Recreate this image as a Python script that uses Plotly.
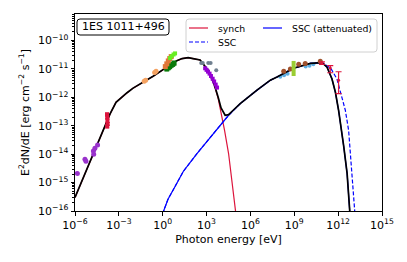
import plotly.graph_objects as go

# ---------------- model curves ----------------
total_E = [1e-6, 1.07e-5, 1.13e-4, 2.5e-4, 6.4e-4, 1.42e-3, 3.65e-3, 9.4e-3, 2.83e-2, 0.22, 1.91, 9.2,
           21, 55, 120, 360, 1190, 3300, 6200, 9800, 1.86e4, 3.2e4, 6.6e4, 2.0e5, 2.8e6, 2.3e7,
           6.6e7, 8.9e8, 1.26e10, 8e10, 1.74e11, 3.8e11, 6.5e11, 1.07e12, 2.4e12, 4.1e12, 6.3e12]
total_F = [3.0e-16, 5.6e-15, 1.0e-13, 2.6e-13, 6.7e-13, 9.7e-13, 1.45e-12, 2.1e-12, 2.9e-12, 5.5e-12, 1.15e-11, 1.92e-11,
           2.3e-11, 2.5e-11, 2.3e-11, 2.05e-11, 9.3e-12, 2.9e-12, 1.0e-12, 4.2e-13, 2.34e-13, 2.45e-13, 3.5e-13, 6.0e-13, 1.78e-12, 4.0e-12,
           5.2e-12, 1.05e-11, 1.55e-11, 1.66e-11, 1.15e-11, 4.4e-12, 1.5e-12, 3.5e-13, 1.9e-14, 2.1e-15, 9e-17]

synch_E = [1e-6, 1.07e-5, 1.13e-4, 2.5e-4, 6.4e-4, 1.42e-3, 3.65e-3, 9.4e-3, 2.83e-2, 0.22, 1.91, 9.2,
           21, 55, 120, 360, 1190, 3300, 6200, 9800, 1.3e4, 1.7e4, 3.2e4, 6.3e4, 9.8e4]
synch_F = [3.0e-16, 5.6e-15, 1.0e-13, 2.6e-13, 6.7e-13, 9.7e-13, 1.45e-12, 2.1e-12, 2.9e-12, 5.5e-12, 1.15e-11, 1.92e-11,
           2.3e-11, 2.5e-11, 2.3e-11, 2.05e-11, 9.3e-12, 2.85e-12, 9.1e-13, 2.9e-13, 1.55e-13, 6.9e-14, 1.05e-14, 6.9e-16, 9e-17]

ssc_att_E = [0.98, 2.3, 5.4, 26, 220, 1800, 1.3e4, 3.0e4, 6.6e4, 2.0e5, 2.8e6, 2.3e7, 6.6e7, 8.9e8,
             1.26e10, 8e10, 1.74e11, 3.8e11, 6.5e11, 1.07e12, 2.4e12, 4.1e12, 6.3e12]
ssc_att_F = [8e-17, 2.6e-16, 5.7e-16, 2.5e-15, 1.05e-14, 3.9e-14, 1.45e-13, 2.24e-13, 3.4e-13, 6.0e-13, 1.78e-12, 4.0e-12, 5.2e-12, 1.05e-11,
             1.55e-11, 1.66e-11, 1.15e-11, 4.4e-12, 1.5e-12, 3.5e-13, 1.9e-14, 2.1e-15, 9e-17]

ssc_E = [0.98, 2.3, 5.4, 26, 220, 1800, 1.3e4, 3.0e4, 6.6e4, 2.0e5, 2.8e6, 2.3e7, 6.6e7, 8.9e8,
         1.26e10, 8e10, 1.74e11, 3.4e11, 8.3e11, 1.62e12, 3.1e12, 5.2e12, 8.9e12, 1.38e13]
ssc_F = [8e-17, 2.6e-16, 5.7e-16, 2.5e-15, 1.05e-14, 3.9e-14, 1.45e-13, 2.24e-13, 3.4e-13, 6.0e-13, 1.78e-12, 4.0e-12, 5.2e-12, 1.05e-11,
         1.55e-11, 1.66e-11, 1.3e-11, 9.8e-12, 4.4e-12, 1.3e-12, 3.5e-13, 6.9e-14, 2.7e-15, 9e-17]

radio_E = [1.45e-6, 4.8e-6, 5.6e-6, 1.8e-5, 2.3e-5, 1.9e-5, 3.5e-5]
radio_F = [2.1e-15, 6.6e-15, 5.6e-15, 1.3e-14, 1.6e-14, 1.0e-14, 2.1e-14]

optR_E = [1.55e-4, 1.6e-4, 1.65e-4, 1.7e-4, 1.6e-4]
optR_F = [2.5e-13, 2.0e-13, 1.5e-13, 1.15e-13, 9.5e-14]

orange_E = [0.054, 0.068, 0.28, 0.35]
orange_F = [3.7e-12, 4.0e-12, 7.4e-12, 8.3e-12]

dgreen_E = [1.9, 2.4, 3.0, 3.8, 4.8, 6.0]
dgreen_F = [1.0e-11, 1.1e-11, 1.2e-11, 1.35e-11, 1.45e-11, 1.6e-11]

brownUV_E = [1.5, 1.9, 2.4, 3.0, 3.8]
brownUV_F = [1.2e-11, 1.5e-11, 1.9e-11, 2.3e-11, 2.7e-11]

lime_E = [3.2, 4.2, 5.5, 7.0]
lime_F = [2.4e-11, 2.8e-11, 3.2e-11, 3.5e-11]

gray_E = [430, 550, 1300, 1900, 4600]
gray_F = [1.6e-11, 1.6e-11, 1.6e-11, 1.6e-11, 9.0e-12]

xray_E = [800, 1000, 1250, 1600, 2000, 2600, 3300, 4200, 5200]
xray_F = [1.05e-11, 9.2e-12, 8.0e-12, 6.8e-12, 5.6e-12, 4.5e-12, 3.6e-12, 2.8e-12, 2.2e-12]

lblue_E = [1.1e8, 2.0e8, 3.5e8, 6.0e9, 1.1e10, 2.0e10]
lblue_F = [5.3e-12, 6.0e-12, 6.8e-12, 1.2e-11, 1.3e-11, 1.45e-11]

fermi_E = [1.9e8, 5.4e8, 2.0e9, 5.6e9, 6.0e10]
fermi_F = [8.3e-12, 9.8e-12, 1.45e-11, 1.55e-11, 1.85e-11]

bow_E = [9e8]
bow_F = [1.05e-11]
bow_up = [0.85e-11]
bow_dn = [0.49e-11]

tev_E = [7.8e10, 2.9e11, 1.07e12]
tev_F = [1.6e-11, 1.07e-11, 4.0e-12]
tev_up = [1.5e-12, 2.3e-12, 3.9e-12]
tev_dn = [1.5e-12, 3.4e-12, 2.65e-12]

xtick_exp = [-6, -3, 0, 3, 6, 9, 12, 15]
ytick_exp = [-16, -15, -14, -13, -12, -11, -10]

FONT = "DejaVu Sans"

fig = go.Figure()

# model curves
fig.add_trace(go.Scatter(x=synch_E, y=synch_F, mode="lines", name="synch",
                         line=dict(color="crimson", width=1.2), showlegend=False))
fig.add_trace(go.Scatter(x=ssc_E, y=ssc_F, mode="lines", name="SSC",
                         line=dict(color="blue", width=1.2, dash="4px,2px"), showlegend=False))
fig.add_trace(go.Scatter(x=ssc_att_E, y=ssc_att_F, mode="lines", name="SSC (attenuated)",
                         line=dict(color="blue", width=1.2), showlegend=False))
fig.add_trace(go.Scatter(x=lblue_E, y=lblue_F, mode="markers",
                         marker=dict(color="#5dade2", size=4), showlegend=False))
fig.add_trace(go.Scatter(x=total_E, y=total_F, mode="lines", name="total",
                         line=dict(color="black", width=1.7), showlegend=False))

def pts(x, y, color, size=5, symbol="circle", err=None, errw=2, errt=1):
    kw = {}
    if err is not None:
        kw["error_y"] = dict(type="data", symmetric=False, array=err[0], arrayminus=err[1],
                             color=color, thickness=errt, width=errw)
    fig.add_trace(go.Scatter(x=x, y=y, mode="markers", showlegend=False,
                             marker=dict(color=color, size=size, symbol=symbol, line=dict(width=0)), **kw))

pts(radio_E, radio_F, "#9932cc", 5)
pts(optR_E, optR_F, "crimson", 4, "square",
    err=([v * 0.12 for v in optR_F], [v * 0.12 for v in optR_F]))
pts(orange_E, orange_F, "#f4a261", 5)
pts(dgreen_E, dgreen_F, "#0a7a0a", 5, "square",
    err=([v * 0.15 for v in dgreen_F], [v * 0.15 for v in dgreen_F]))
pts(brownUV_E, brownUV_F, "#e0763a", 5, "square")
pts(lime_E, lime_F, "#66ee22", 4, "square")
pts(gray_E, gray_F, "#708090", 4)
pts(xray_E, xray_F, "#9400d3", 4, "square",
    err=([v * 0.12 for v in xray_F], [v * 0.12 for v in xray_F]), errw=0)
pts(fermi_E, fermi_F, "#a0522d", 5)
fig.add_trace(go.Scatter(x=bow_E, y=bow_F, mode="markers", showlegend=False,
                         marker=dict(color="#9acd32", size=1, opacity=0),
                         error_y=dict(type="data", symmetric=False, array=bow_up, arrayminus=bow_dn,
                                      color="#9acd32", thickness=4, width=0)))
pts(tev_E, tev_F, "crimson", 3, err=(tev_up, tev_dn), errw=3, errt=1.2)

# ---------- decoration (legend box, label box) in paper coords ----------
L, R, T, B = 75, 382, 14, 211
W, H = R - L, B - T
def px(x):
    return (x - L) / W
def py(y):
    return (B - y) / H

def rounded(x0, y0, x1, y1, r=3):
    rx, ry = r / W, r / H
    a, b, c, d = px(x0), py(y1), px(x1), py(y0)
    return (f"M{a+rx},{b} L{c-rx},{b} Q{c},{b} {c},{b+ry} L{c},{d-ry} Q{c},{d} {c-rx},{d} "
            f"L{a+rx},{d} Q{a},{d} {a},{d-ry} L{a},{b+ry} Q{a},{b} {a+rx},{b} Z")

shapes = [
    dict(type="path", xref="paper", yref="paper", path=rounded(77, 19, 169, 35),
         line=dict(color="black", width=1), fillcolor="white"),
    dict(type="path", xref="paper", yref="paper", path=rounded(186, 19, 377, 52),
         line=dict(color="#d0d0d0", width=1), fillcolor="rgba(255,255,255,0.85)"),
    dict(type="line", xref="paper", yref="paper", x0=px(189), x1=px(208), y0=py(28), y1=py(28),
         line=dict(color="crimson", width=1.2)),
    dict(type="line", xref="paper", yref="paper", x0=px(189), x1=px(208), y0=py(42), y1=py(42),
         line=dict(color="blue", width=1.2, dash="4px,2px")),
    dict(type="line", xref="paper", yref="paper", x0=px(263), x1=px(282), y0=py(28), y1=py(28),
         line=dict(color="blue", width=1.2)),
]
annotations = [
    dict(text="1ES 1011+496", xref="paper", yref="paper", x=px(123), y=py(27), xanchor="center",
         yanchor="middle", showarrow=False, font=dict(family=FONT, size=11, color="black")),
    dict(text="synch", xref="paper", yref="paper", x=px(216), y=py(28), xanchor="left",
         yanchor="middle", showarrow=False, font=dict(family=FONT, size=9.3, color="black")),
    dict(text="SSC", xref="paper", yref="paper", x=px(216), y=py(42), xanchor="left",
         yanchor="middle", showarrow=False, font=dict(family=FONT, size=9.3, color="black")),
    dict(text="SSC (attenuated)", xref="paper", yref="paper", x=px(290), y=py(28), xanchor="left",
         yanchor="middle", showarrow=False, font=dict(family=FONT, size=9.3, color="black")),
]

fig.update_layout(
    width=407, height=262,
    margin=dict(l=L, r=407 - R, t=T, b=262 - B, pad=0),
    plot_bgcolor="white", paper_bgcolor="white",
    font=dict(family=FONT, size=11, color="black"),
    shapes=shapes, annotations=annotations, showlegend=False,
    hovermode=False,
)
fig.update_xaxes(
    type="log", range=[-6, 15],
    tickvals=[10.0 ** e for e in xtick_exp],
    ticktext=[f"10<sup>{str(e).replace('-', '−')}</sup>" for e in xtick_exp],
    ticks="outside", ticklen=3.5, tickwidth=1, tickcolor="black",
    showline=True, linecolor="black", linewidth=1, mirror=True,
    showgrid=False, zeroline=False,
    title=dict(text="Photon energy [eV]", font=dict(family=FONT, size=11), standoff=4),
    tickfont=dict(family=FONT, size=11),
)
fig.update_yaxes(
    type="log", range=[-16, -9.07],
    tickvals=[10.0 ** e for e in ytick_exp],
    ticktext=[f"10<sup>{str(e).replace('-', '−')}</sup>" for e in ytick_exp],
    ticks="outside", ticklen=3.5, tickwidth=1, tickcolor="black",
    minor=dict(ticks="outside", ticklen=2, tickcolor="black", dtick="D1", showgrid=False),
    showline=True, linecolor="black", linewidth=1, mirror=True,
    showgrid=False, zeroline=False,
    title=dict(text="E<sup>2</sup>dN/dE [erg cm<sup>−2</sup> s<sup>−1</sup>]",
               font=dict(family=FONT, size=11), standoff=6),
    tickfont=dict(family=FONT, size=11),
)

fig.write_html("out.html", config={"displayModeBar": False},
               post_script="document.body.style.margin='0';document.body.style.padding='0';")
